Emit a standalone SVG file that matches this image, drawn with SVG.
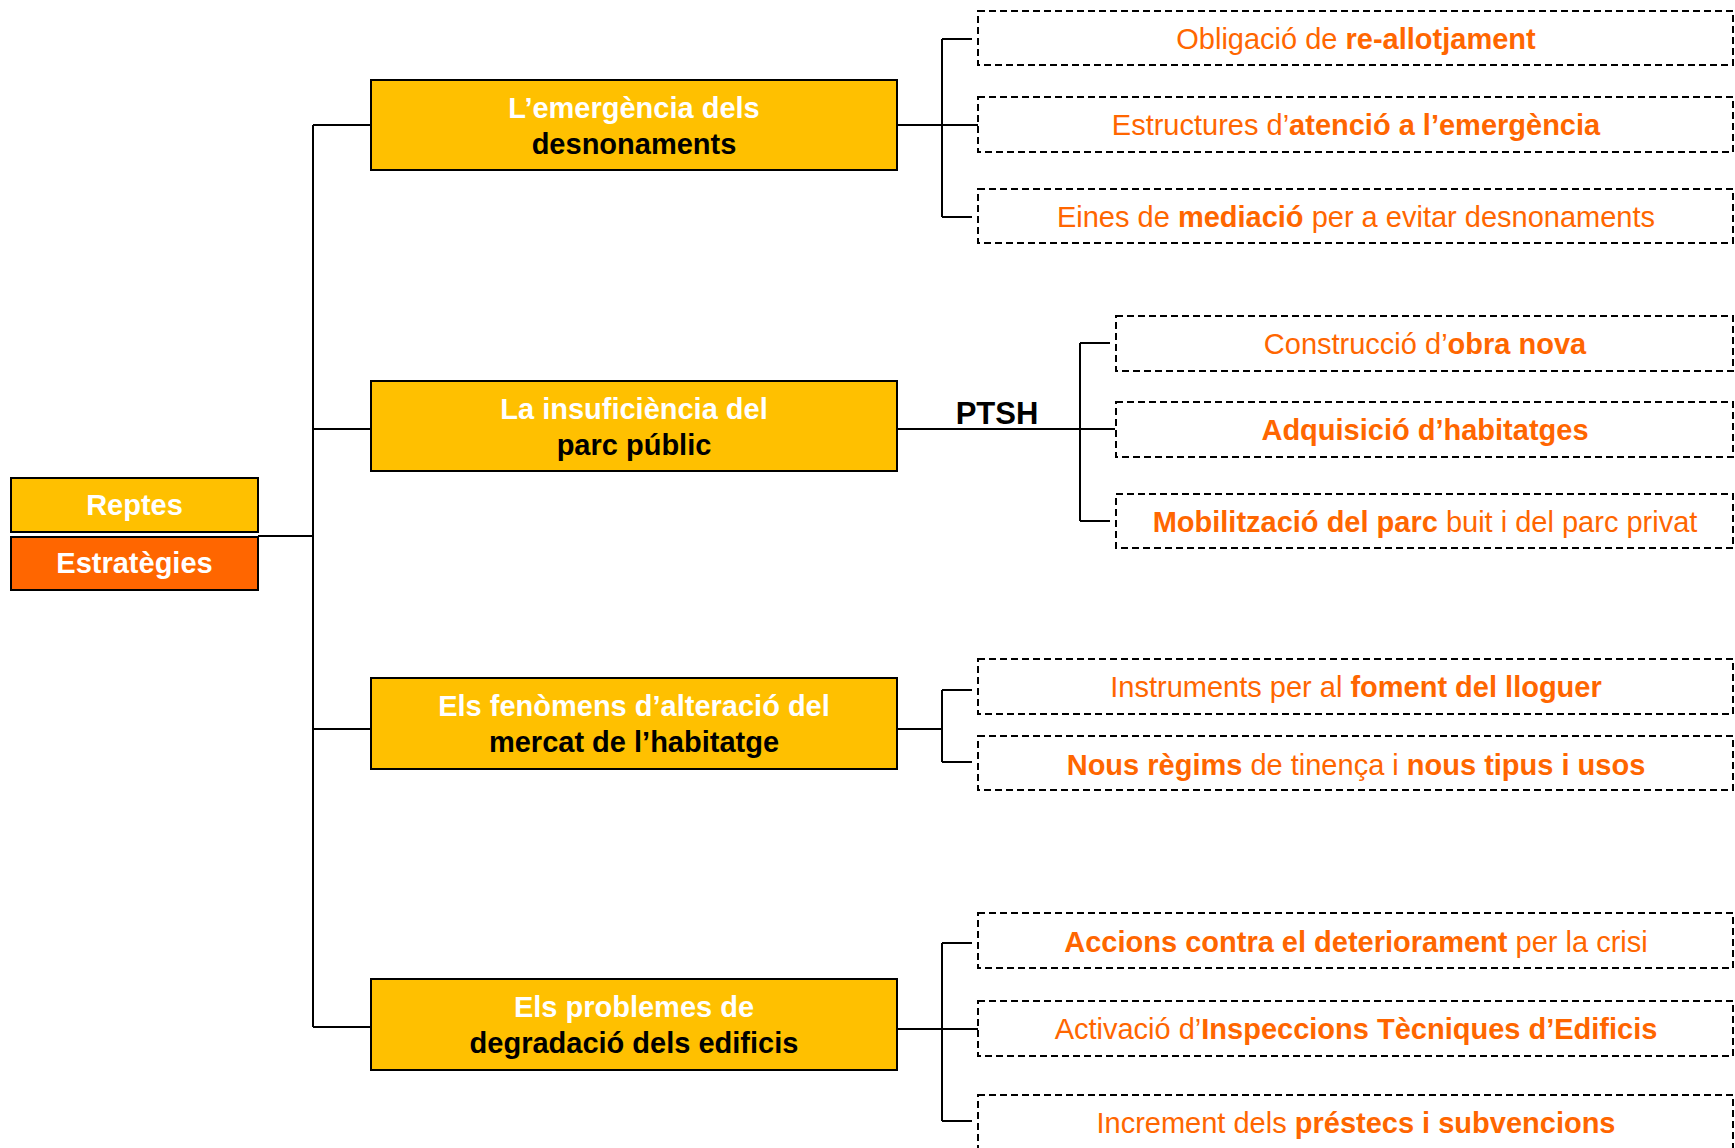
<svg xmlns="http://www.w3.org/2000/svg" width="1735" height="1148" viewBox="0 0 1735 1148">
<style>
.main{fill:#FFC000;stroke:#000;stroke-width:2}
.dash{fill:#fff;stroke:#000;stroke-width:2;stroke-dasharray:7 4}
.t{font-family:"Liberation Sans",Arial,sans-serif;font-size:29px;text-anchor:middle}
.b{font-weight:bold}
.w{fill:#fff;font-weight:bold}
.k{fill:#000;font-weight:bold}
.o{fill:#FF6600}
.ln{stroke:#000;stroke-width:2;fill:none}
</style>
<rect width="1735" height="1148" fill="#fff"/>
<g id="connectors">
<path class="ln" d="M258 536H313M313 125V1027M313 125H371M313 429H371M313 729H371M313 1027H371"/>
<path class="ln" d="M897 125H978M942 39V217M942 39H972M942 217H972"/>
<path class="ln" d="M897 429H1115M1080 343V521M1080 343H1110M1080 521H1110"/>
<path class="ln" d="M897 729H942M942 690V762M942 690H972M942 762H972"/>
<path class="ln" d="M897 1029H978M942 943V1121M942 943H972M942 1121H972"/>
<text class="t k" x="997" y="424" style="font-size:31px">PTSH</text>
</g>
<g id="reptes">
<rect x="11" y="478" width="247" height="54" style="fill:#FFC000;stroke:#000;stroke-width:2"/>
<text class="t w" x="134.5" y="515">Reptes</text>
</g>
<g id="estrategies">
<rect x="11" y="537" width="247" height="53" style="fill:#FF6600;stroke:#000;stroke-width:2"/>
<text class="t w" x="134.5" y="573">Estratègies</text>
</g>
<g id="m1">
<rect class="main" x="371" y="80" width="526" height="90"/>
<text class="t w" x="634" y="118">L’emergència dels</text>
<text class="t k" x="634" y="154">desnonaments</text>
</g>
<g id="m2">
<rect class="main" x="371" y="381" width="526" height="90"/>
<text class="t w" x="634" y="419">La insuficiència del</text>
<text class="t k" x="634" y="455">parc públic</text>
</g>
<g id="m3">
<rect class="main" x="371" y="678" width="526" height="91"/>
<text class="t w" x="634" y="716">Els fenòmens d’alteració del</text>
<text class="t k" x="634" y="752">mercat de l’habitatge</text>
</g>
<g id="m4">
<rect class="main" x="371" y="979" width="526" height="91"/>
<text class="t w" x="634" y="1017">Els problemes de</text>
<text class="t k" x="634" y="1053">degradació dels edificis</text>
</g>
<g id="s1a">
<rect class="dash" x="978" y="11" width="755" height="54"/>
<text class="t o" x="1356" y="49">Obligació de <tspan class="b">re-allotjament</tspan></text>
</g>
<g id="s1b">
<rect class="dash" x="978" y="97" width="755" height="55"/>
<text class="t o" x="1356" y="135">Estructures d’<tspan class="b">atenció a l’emergència</tspan></text>
</g>
<g id="s1c">
<rect class="dash" x="978" y="189" width="755" height="54"/>
<text class="t o" x="1356" y="227">Eines de <tspan class="b">mediació</tspan> per a evitar desnonaments</text>
</g>
<g id="s2a">
<rect class="dash" x="1116" y="316" width="617" height="55"/>
<text class="t o" x="1425" y="354">Construcció d’<tspan class="b">obra nova</tspan></text>
</g>
<g id="s2b">
<rect class="dash" x="1116" y="402" width="617" height="55"/>
<text class="t o b" x="1425" y="440">Adquisició d’habitatges</text>
</g>
<g id="s2c">
<rect class="dash" x="1116" y="494" width="617" height="54"/>
<text class="t o" x="1425" y="532"><tspan class="b">Mobilització del parc</tspan> buit i del parc privat</text>
</g>
<g id="s3a">
<rect class="dash" x="978" y="659" width="755" height="55"/>
<text class="t o" x="1356" y="697">Instruments per al <tspan class="b">foment del lloguer</tspan></text>
</g>
<g id="s3b">
<rect class="dash" x="978" y="736" width="755" height="54"/>
<text class="t o" x="1356" y="775"><tspan class="b">Nous règims</tspan> de tinença i <tspan class="b">nous tipus i usos</tspan></text>
</g>
<g id="s4a">
<rect class="dash" x="978" y="913" width="755" height="55"/>
<text class="t o" x="1356" y="952"><tspan class="b">Accions contra el deteriorament</tspan> per la crisi</text>
</g>
<g id="s4b">
<rect class="dash" x="978" y="1001" width="755" height="55"/>
<text class="t o" x="1356" y="1039">Activació d’<tspan class="b">Inspeccions Tècniques d’Edificis</tspan></text>
</g>
<g id="s4c">
<rect class="dash" x="978" y="1095" width="755" height="60"/>
<text class="t o" x="1356" y="1133">Increment dels <tspan class="b">préstecs i subvencions</tspan></text>
</g>
</svg>
